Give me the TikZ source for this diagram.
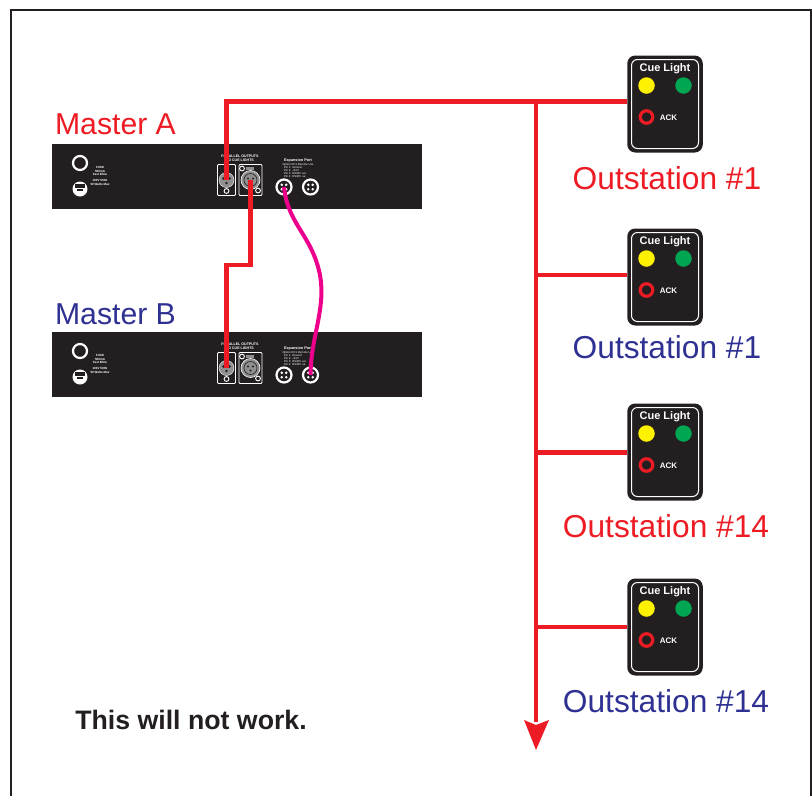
\documentclass[tikz,border=0pt]{standalone}
\usepackage{fontspec}
\setmainfont{Liberation Sans}
\definecolor{cred}{HTML}{ED1C24}
\definecolor{cblue}{HTML}{2E3192}
\definecolor{cblack}{HTML}{231F20}
\definecolor{cmag}{HTML}{EC008C}
\definecolor{cyel}{HTML}{FFF200}
\definecolor{cgrn}{HTML}{00A651}
\definecolor{cgray}{HTML}{8F8F8F}
\tikzset{
  frameline/.style={draw=cblack,line width=1.6pt},
  rack/.style={fill=cblack,draw=none},
  biglabel/.style={font=\fontsize{30.2}{32}\selectfont,inner sep=0pt,anchor=center},
  outlabel/.style={font=\fontsize{31.7}{33}\selectfont,inner sep=0pt,anchor=center},
  tiny/.style={text=white,font=\bfseries\fontsize{3.4}{4}\selectfont,align=center,inner sep=0pt},
  tinier/.style={text=white,font=\fontsize{2.8}{3.4}\selectfont,align=left,inner sep=0pt},
  redline/.style={draw=cred,line width=4.4pt},
  panelbox/.style={draw=white,line width=0.8pt,rounded corners=1pt,fill=cblack},
  dot/.style={circle,inner sep=0pt,minimum size=16.5pt},
  xlr/.style={circle,fill=cgray,draw=white,line width=0.4pt,inner sep=0pt,minimum size=15pt},
  xlrbig/.style={circle,fill=cgray,draw=white,line width=0.6pt,inner sep=0pt,minimum size=19pt},
  port/.style={circle,fill=cblack,draw=white,line width=2.2pt,inner sep=0pt,minimum size=15pt},
  screw/.style={circle,fill=cblack,draw=white,line width=0.9pt,inner sep=0pt,minimum size=4.8pt},
  cuebox/.style={rectangle,rounded corners=8pt,fill=cblack,inner sep=0pt,minimum width=75.5pt,minimum height=97pt},
  cueinner/.style={draw=white,line width=1pt,rounded corners=6pt},
}
\newcommand{\masterunit}[2]{%
  \begin{scope}[yshift=-#2pt]
    \node[rack,minimum width=370pt,minimum height=65pt,inner sep=0pt,anchor=north west] (#1box) at (52,144) {};
    \node[circle,draw=white,line width=2.2pt,fill=cblack,inner sep=0pt,minimum size=14pt] (#1fuse) at (80,163) {};
    \node[circle,fill=white,inner sep=0pt,minimum size=15pt] (#1iec) at (80,189) {};
    \fill[cblack] (75,184) rectangle (85,187.5);
    \fill[cblack] (77,183.5) rectangle (83,191);
    \draw[white,line width=0.5pt] (75,188) -- (85,188);
    \node[tiny,font=\bfseries\fontsize{3}{3.2}\selectfont] (#1fusetext) at (100,171) {FUSE\\500mA\\Fast Blow};
    \node[tiny,font=\bfseries\fontsize{3}{3.2}\selectfont] (#1mains) at (100,182.5) {100V 50Hz\\50 Watts Max};
    \node[tiny,font=\bfseries\fontsize{3.6}{4.2}\selectfont] (#1par) at (240,158) {PARALLEL OUTPUTS\\TO CUE LIGHTS};
    \node[panelbox,minimum width=18pt,minimum height=31pt,inner sep=0pt] (#1pa) at (226.5,180) {};
    \node[panelbox,minimum width=23pt,minimum height=31pt,inner sep=0pt] (#1pb) at (250.5,180) {};
    \node[xlr] (#1out) at (226.5,180) {};
    \foreach \dx/\dy in {-3/-1.5,3/-1.5,0/3}{\fill[cblack] (226.5+\dx,180+\dy) circle (1.4pt);}
    \node[screw] at (226.5,191) {};
    \node[circle,draw=white,line width=0.5pt,inner sep=0pt,minimum size=4.5pt] at (226.5,168.5) {};
    \node[xlrbig] (#1in) at (250.5,180) {};
    \node[circle,fill=cgray,draw=cblack,line width=0.6pt,inner sep=0pt,minimum size=13pt] at (250.5,180) {};
    \foreach \dx/\dy in {-2.5/-1.5,2.5/-1.5,0/2.5}{\fill[cblack] (250.5+\dx,180+\dy) circle (1.2pt);}
    \fill[cgray] (246,166.5) rectangle (254,170);
    \node[screw] at (258,190.5) {};
    \node[screw] at (242,168.5) {};
    \node[port] (#1p1) at (284,187) {};
    \node[port] (#1p2) at (310.5,187) {};
    \foreach \px in {284,310.5}{\foreach \dx/\dy in {-2.2/-2.2,2.2/-2.2,-2.2/2.2,2.2/2.2}{\fill[white] (\px+\dx,187+\dy) circle (1.4pt);}}
    \node[tiny,font=\bfseries\fontsize{3.8}{4}\selectfont] (#1exp) at (298,160.5) {Expansion Port};
    \node[tinier] (#1pins) at (298,170.5) {Option RC1 Remote Use\\[-0.2pt]\ \ Pin 1: Ground\\[-0.2pt]\ \ Pin 2: +24V\\[-0.2pt]\ \ Pin 3: RS485 +ve\\[-0.2pt]\ \ Pin 4: RS485 -ve};
  \end{scope}}
\newcommand{\cuepanel}[3]{% name, x-centre, y-centre
  \node[cuebox] (#1) at (#2,#3) {};
  \draw[cueinner] (#2-33.5,#3-44.5) rectangle (#2+33.5,#3+44.5);
  \node[text=white,font=\bfseries\fontsize{11}{12}\selectfont,inner sep=0pt] (#1title) at (#2,#3-35.5) {Cue Light};
  \node[dot,fill=cyel] (#1y) at (#2-18.5,#3-18.5) {};
  \node[dot,fill=cgrn] (#1g) at (#2+18.5,#3-18.5) {};
  \node[circle,draw=cred,line width=3.2pt,fill=cblack,inner sep=0pt,minimum size=12.5pt] (#1a) at (#2-18.5,#3+13) {};
  \node[text=white,font=\bfseries\fontsize{8}{8}\selectfont,inner sep=0pt] (#1ack) at (#2+3.5,#3+13.5) {ACK};
}
\begin{document}
\begin{tikzpicture}[x=1pt,y=-1pt]
\useasboundingbox (0,0) rectangle (812,796);
\draw[frameline] (11,796) -- (11,10) -- (811,10) -- (811,796);

\masterunit{a}{0}
\masterunit{b}{188}

\node[biglabel,text=cred] (la) at (115.5,124) {Master A};
\node[biglabel,text=cblue] (lb) at (115.5,314) {Master B};

\cuepanel{c1}{665}{104}
\cuepanel{c2}{665}{277}
\cuepanel{c3}{665}{452}
\cuepanel{c4}{665}{627}

\node[outlabel,text=cred] (o1) at (667,178) {Outstation \#1};
\node[outlabel,text=cblue] (o2) at (667,347) {Outstation \#1};
\node[outlabel,text=cred] (o3) at (666,526) {Outstation \#14};
\node[outlabel,text=cblue] (o4) at (666,701) {Outstation \#14};
\node[font=\bfseries\fontsize{26.7}{28}\selectfont,text=cblack,inner sep=0pt] (note) at (191,720) {This will not work.};

\coordinate (tl) at (226.5,101.5);
\coordinate (bus) at (536,101.5);
\coordinate (end) at (536,722);
\coordinate (tip) at (536,750);
\coordinate (j2) at (536,275);
\coordinate (j3) at (536,452.5);
\coordinate (j4) at (536,627);

\draw[redline,line join=miter] (aout.center) -- (tl) -- (bus) -- (c1.west |- tl);
\draw[redline] (bus) -- (end);
\draw[redline] (j2) -- (j2 -| c2.west);
\draw[redline] (j3) -- (j3 -| c3.west);
\draw[redline] (j4) -- (j4 -| c4.west);
\fill[cred] (524,720) -- (536,725) -- (549,720) -- (tip) -- cycle;

\draw[redline,line join=miter] (ain.center) -- (250.5,265) -- (226.5,265) -- (bout.center);

\draw[draw=cmag,line width=4pt] (ap1.center) .. controls (288,225) and (312,235) .. (320,275)
   .. controls (326,310) and (311,335) .. (bp2.center);
\end{tikzpicture}
\end{document}
